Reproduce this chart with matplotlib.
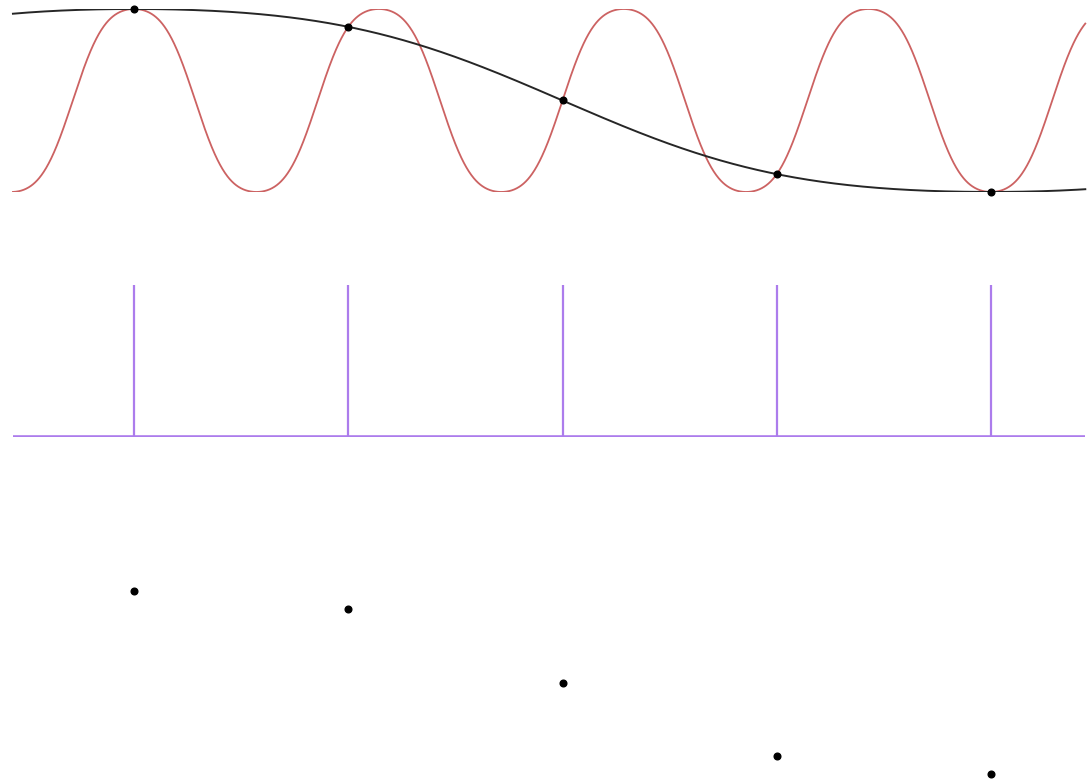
import numpy as np
import matplotlib
matplotlib.use("Agg")
import matplotlib.pyplot as plt

# sampling instants (in sample periods) and the values read at them
sample_n = [0, 1, 2, 3, 4]
sample_val = [1.0, 0.80, 0.0, -0.80, -1.0]
stem_height = [1, 1, 1, 1, 1]

# signal frequencies in cycles per sample: red is above Nyquist, black is its alias
f_high = 7 / 8
f_alias = 1 / 8
shape_a = 1.2       # the drawn waves are a bit rounder than a pure cosine
t_start, t_end = -0.565, 4.44


def wave(f, t):
    c = np.cos(2 * np.pi * f * t)
    return np.sin(shape_a * c) / np.sin(shape_a)


t = np.linspace(t_start, t_end, 3000)
fig = plt.figure(figsize=(10.9, 7.81), dpi=100)
xl = (-0.6254, 4.462)

# top: continuous signals with the samples
ax1 = fig.add_axes([0, 0.7542, 1, 0.2343])
ax1.plot(t, wave(f_high, t), color='#cc6262', lw=1.3)
ax1.plot(t, wave(f_alias, t), color='#262626', lw=1.4)
ax1.plot(sample_n, sample_val, 'o', color='black', ms=4.8, clip_on=False)
ax1.set_xlim(*xl)
ax1.set_ylim(-1, 1)
ax1.axis('off')

# middle: impulse train
ax2 = fig.add_axes([0, 0.4405, 1, 0.1946])
ax2.vlines(sample_n, 0, stem_height, color='#ac7cec', lw=1.6)
ax2.hlines(0, t_start, t_end, color='#ac7cec', lw=2.6)
ax2.set_xlim(*xl)
ax2.set_ylim(0, 1)
ax2.axis('off')

# bottom: the sampled values alone
ax3 = fig.add_axes([0, 0.00896, 1, 0.2343])
ax3.plot(sample_n, sample_val, 'o', color='black', ms=4.8, clip_on=False)
ax3.set_xlim(*xl)
ax3.set_ylim(-1, 1)
ax3.axis('off')

fig.savefig('out.png', dpi=100)
